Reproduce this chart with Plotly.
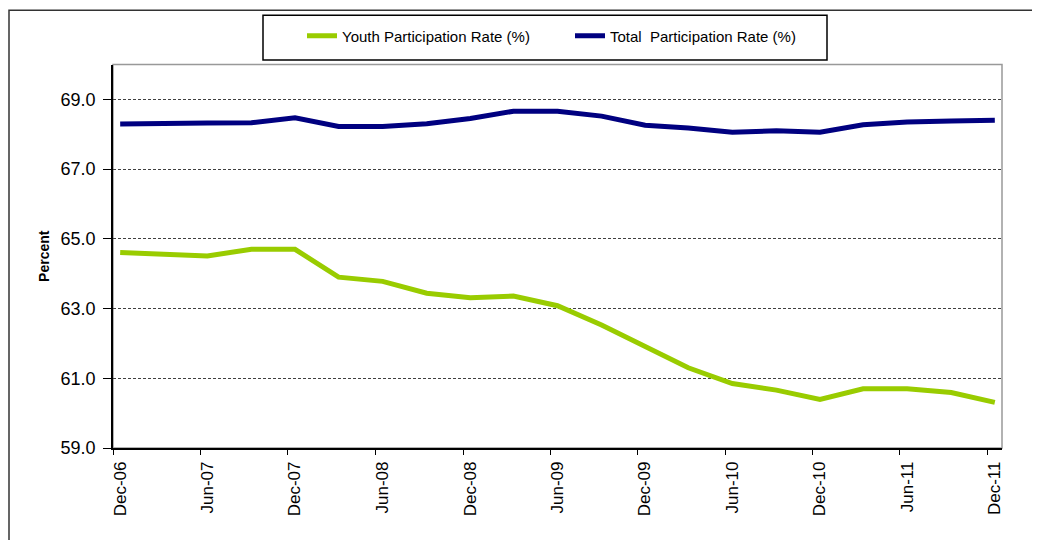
import pandas as pd
import plotly.graph_objects as go

# ---- data (quarterly, Dec-06 .. Dec-11) ----
quarters = pd.date_range("2006-12-01", "2011-12-01", freq="3MS")
youth_rate = [64.61, 64.56, 64.51, 64.70, 64.70, 63.90, 63.78, 63.44, 63.31, 63.36,
              63.08, 62.53, 61.90, 61.30, 60.85, 60.66, 60.39, 60.70, 60.70, 60.59, 60.31]
total_rate = [68.29, 68.29, 68.32, 68.33, 68.47, 68.22, 68.22, 68.30, 68.45, 68.66,
              68.66, 68.52, 68.26, 68.18, 68.06, 68.10, 68.06, 68.27, 68.35, 68.38, 68.40]
youth_name = "Youth Participation Rate (%)"
total_name = "Total  Participation Rate (%)"
label_months = pd.date_range("2006-12-01", "2011-12-01", freq="6MS")
tick_text = [d.strftime("%b-%y") for d in label_months]
y_ticks = [59.0, 61.0, 63.0, 65.0, 67.0, 69.0]

FONT = "Liberation Sans, Arial, sans-serif"

W, H = 1032, 532
L, R, T, B = 105, 38, 55, 92
PW, PH = W - L - R, H - T - B


def px(xpix):
    return (xpix - L) / PW


def py(ypix):
    return (H - B - ypix) / PH


fig = go.Figure()
fig.add_trace(go.Scatter(x=quarters, y=youth_rate, mode="lines", name=youth_name,
                         line=dict(color="#99CC00", width=5)))
fig.add_trace(go.Scatter(x=quarters, y=total_rate, mode="lines", name=total_name,
                         line=dict(color="#000080", width=5)))

half = pd.Timedelta(days=15)
fig.update_xaxes(
    range=[quarters[0] - half, quarters[-1] + half],
    tickmode="array",
    tickvals=[d - half for d in label_months],
    ticktext=tick_text,
    tickangle=-90,
    ticklabelshift=7,
    ticks="outside", ticklen=5, tickcolor="black", tickwidth=1,
    showline=True, linecolor="black", linewidth=1.5,
    showgrid=False, zeroline=False,
    tickfont=dict(family=FONT, size=17, color="black"),
)
fig.update_yaxes(
    range=[59, 70],
    tickmode="array", tickvals=y_ticks, tickformat=".1f",
    ticks="outside", ticklen=8, tickcolor="black", tickwidth=1,
    ticklabelstandoff=4,
    showline=True, linecolor="black", linewidth=1.5,
    showgrid=True, gridcolor="#404040", gridwidth=1, griddash="3px,2px",
    zeroline=False,
    tickfont=dict(family=FONT, size=18, color="black"),
    title=dict(text="<b>Percent</b>", font=dict(family=FONT, size=14, color="black"), standoff=8),
)

# plot-area border (gray, top/right visible)
fig.add_shape(type="rect", xref="paper", yref="paper", x0=0, x1=1, y0=0, y1=1,
              line=dict(color="#999999", width=1.5), layer="below")
# outer chart frame
fig.add_shape(type="rect", xref="paper", yref="paper",
              x0=px(1), x1=px(W + 20), y0=py(H + 20), y1=py(0.5),
              line=dict(color="#333333", width=1.5), layer="below")
# legend box
fig.add_shape(type="rect", xref="paper", yref="paper",
              x0=px(255), x1=px(819), y0=py(50.5), y1=py(5.5),
              line=dict(color="black", width=1.5), layer="below")

fig.update_layout(
    width=W, height=H,
    margin=dict(l=L, r=R, t=T, b=B),
    paper_bgcolor="white", plot_bgcolor="white",
    font=dict(family=FONT, color="black"),
    showlegend=True,
    legend=dict(orientation="h", xref="container", yref="container",
                x=294 / W, xanchor="left", y=1 - 28 / H, yanchor="middle",
                entrywidth=223, entrywidthmode="pixels",
                bgcolor="rgba(0,0,0,0)", borderwidth=0,
                font=dict(family=FONT, size=15, color="black")),
)

fig.write_html("out.html")
